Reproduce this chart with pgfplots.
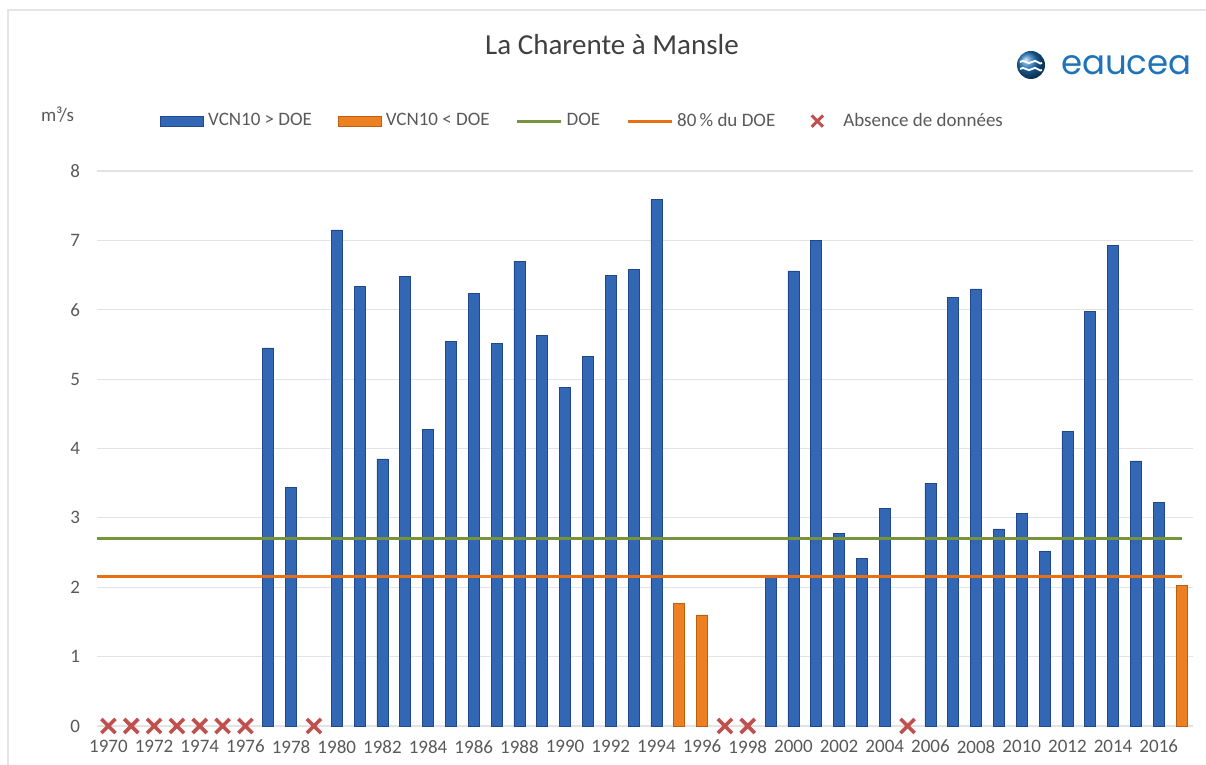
\documentclass[border=0pt]{standalone}
\usepackage{fontspec}
\setmainfont{Carlito}
\newfontfamily\logofont{Poppins}
\usepackage{pgfplots}
\pgfplotsset{compat=1.18}
\definecolor{barblue}{RGB}{50,103,182}
\definecolor{barblueD}{RGB}{32,72,138}
\definecolor{baror}{RGB}{236,128,34}
\definecolor{barorD}{RGB}{190,95,15}
\definecolor{doegreen}{RGB}{119,147,60}
\definecolor{doeorange}{RGB}{232,112,20}
\definecolor{missred}{RGB}{192,80,77}
\definecolor{txtgray}{RGB}{89,89,89}
\definecolor{logoblue}{RGB}{30,115,185}

\begin{document}
\begin{tikzpicture}
\useasboundingbox (0,0) rectangle (603pt,382.5pt);
% light frame
\draw[gray!20, line width=1pt] (4pt,0) -- (4pt,377.5pt) -- (603pt,377.5pt);

% title and logo
\node[font=\fontsize{14.5}{16}\selectfont, text=black!75] at (306pt,360pt) {La Charente à Mansle};
\shade[ball color=logoblue] (515.5pt,350pt) circle (7pt);
\draw[white, line width=0.9pt] (510pt,351.5pt) .. controls (512pt,353.5pt) and (514pt,349.5pt) .. (516pt,351.5pt) .. controls (518pt,353.5pt) and (520pt,349.5pt) .. (521pt,351pt);
\draw[white, line width=0.9pt] (510pt,348pt) .. controls (512pt,350pt) and (514pt,346pt) .. (516pt,348pt) .. controls (518pt,350pt) and (520pt,346pt) .. (521pt,347.5pt);
\node[anchor=west, font=\logofont\fontsize{17}{18}\selectfont, text=logoblue] at (527pt,350pt) {eaucea};

% unit
\node[anchor=west, font=\fontsize{9.5}{11}\selectfont, text=txtgray] at (17pt,325pt) {m³/s};

\begin{axis}[
    at={(48.5pt,19.5pt)}, anchor=south west,
    scale only axis,
    width=548pt, height=277.5pt,
    xmin=1969.5, xmax=2017.5,
    ymin=0, ymax=8,
    xtick={1970,1972,...,2016},
    ytick={0,1,...,8},
    /pgf/number format/1000 sep={},
    /pgf/number format/assume math mode=true,
    axis line style={draw=none},
    major tick length=0pt,
    ymajorgrids,
    grid style={gray!22, line width=0.6pt},
    ticklabel style={font=\fontsize{9.5}{11}\selectfont, text=txtgray},
    xticklabel style={yshift=-3.5pt},
    yticklabel style={xshift=-5pt},
    clip=false,
    legend columns=5,
    legend style={at={(0.444,1.09)}, anchor=center, draw=none, fill=none,
        font=\fontsize{9.5}{11}\selectfont, text=txtgray,
        /tikz/every even column/.append style={column sep=11pt}},
]
\addplot[ybar, bar width=5.5pt, bar shift=0pt, draw=barblueD, line width=0.4pt, fill=barblue,
    legend image code/.code={\path[fill=barblue, draw=barblueD] (0pt,-2.5pt) rectangle (21.5pt,2.5pt);}]
  coordinates {
  (1977,5.45) (1978,3.44) (1980,7.15) (1981,6.34) (1982,3.85) (1983,6.48)
  (1984,4.28) (1985,5.54) (1986,6.24) (1987,5.52) (1988,6.70) (1989,5.63)
  (1990,4.88) (1991,5.33) (1992,6.50) (1993,6.58) (1994,7.59) (1999,2.15)
  (2000,6.56) (2001,7.00) (2002,2.77) (2003,2.41) (2004,3.13) (2006,3.50)
  (2007,6.18) (2008,6.30) (2009,2.84) (2010,3.06) (2011,2.52) (2012,4.25)
  (2013,5.98) (2014,6.93) (2015,3.82) (2016,3.22)};
\addlegendentry{VCN10 > DOE\hspace{4pt}}

\addplot[ybar, bar width=5.5pt, bar shift=0pt, draw=barorD, line width=0.4pt, fill=baror,
    legend image code/.code={\path[fill=baror, draw=barorD] (0pt,-2.5pt) rectangle (21.5pt,2.5pt);}]
  coordinates {(1995,1.76) (1996,1.60) (2017,2.03)};
\addlegendentry{VCN10 < DOE}

\addplot[doegreen, line width=1.5pt,
    legend image code/.code={\draw[doegreen, line width=1.5pt] (0pt,0pt) -- (22pt,0pt);}]
  coordinates {(1969.5,2.70) (2017,2.70)};
\addlegendentry{DOE}

\addplot[doeorange, line width=1.5pt,
    legend image code/.code={\draw[doeorange, line width=1.5pt] (0pt,0pt) -- (22pt,0pt);}]
  coordinates {(1969.5,2.16) (2017,2.16)};
\addlegendentry{80\,\% du DOE}

\addplot[only marks, mark=x, mark size=5pt, missred, line width=1.8pt,
    legend image code/.code={\path[draw=none, fill=none] (0pt,-0.1pt) rectangle (19pt,0.1pt);
      \path[missred, line width=1.5pt, draw=none] plot[mark=x, mark size=4pt, mark options={draw=missred}] coordinates {(8pt,0pt)};}]
  coordinates {(1970,0) (1971,0) (1972,0) (1973,0) (1974,0) (1975,0) (1976,0)
  (1979,0) (1997,0) (1998,0) (2005,0)};
\addlegendentry{Absence de données}
\end{axis}
\end{tikzpicture}
\end{document}
